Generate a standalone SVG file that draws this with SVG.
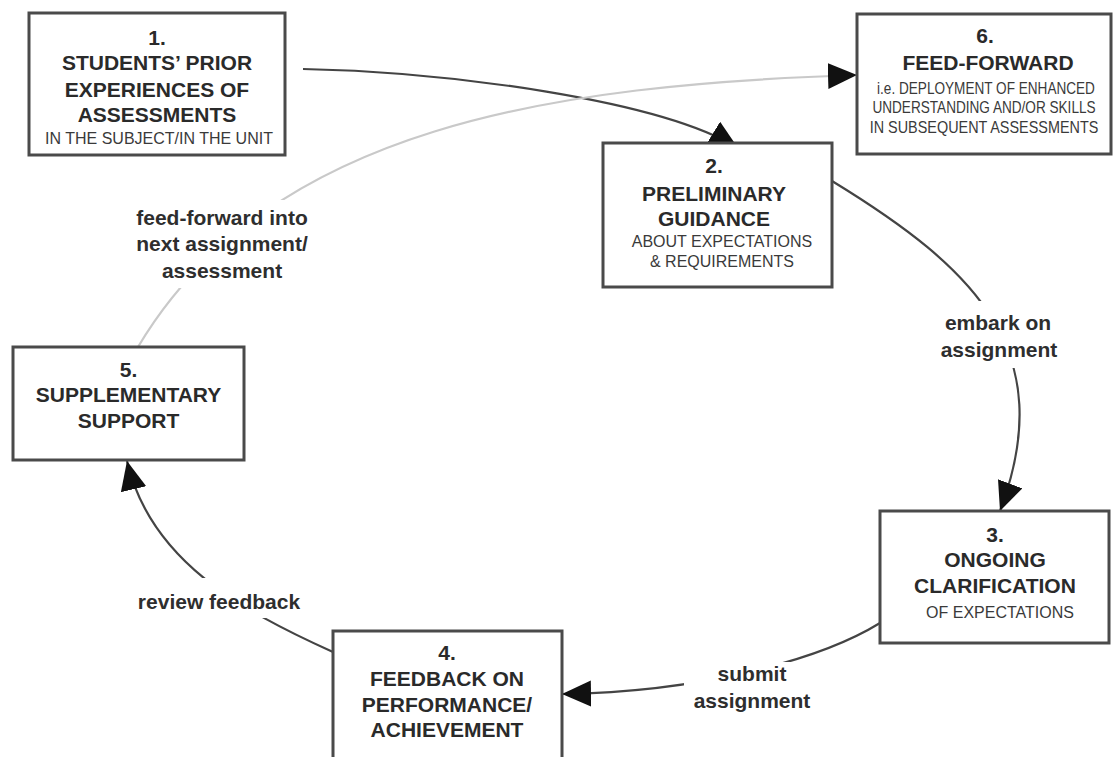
<svg xmlns="http://www.w3.org/2000/svg" width="1114" height="757" viewBox="0 0 1114 757">
<style>
.box{fill:#fff;stroke:#4a4a4a;stroke-width:3}
.t{font-family:"Liberation Sans",Arial,sans-serif;font-weight:bold;font-size:21px;fill:#2a2a2a;text-anchor:middle}
.s{font-family:"Liberation Sans",Arial,sans-serif;font-size:16px;fill:#3a3a3a;text-anchor:middle}
.lbl{font-family:"Liberation Sans",Arial,sans-serif;font-weight:bold;font-size:21px;fill:#2e2e2e;text-anchor:middle}
.c{fill:none;stroke:#444;stroke-width:2.2}
.cl{fill:none;stroke:#c9c9c9;stroke-width:2.2}
</style>
<defs>
<marker id="ah" markerUnits="userSpaceOnUse" markerWidth="32" markerHeight="30" refX="29" refY="13" orient="auto">
<path d="M0,0 L29,13 L0,26 z" fill="#111"/>
</marker>
</defs>
<rect width="1114" height="757" fill="#fff"/>
<g id="connectors">
<path class="c" d="M303,69 C450,72 660,100 738,148" marker-end="url(#ah)"/>
<path class="cl" d="M138,347 C270,125 557,85 857,75" marker-end="url(#ah)"/>
<path class="c" d="M832,181 C976,269 1060,351 1000,511" marker-end="url(#ah)"/>
<path class="c" d="M880,623 C820,660 700,692 562,694" marker-end="url(#ah)"/>
<path class="c" d="M333,652 C240,610 150,560 127,461" marker-end="url(#ah)"/>
</g>
<g id="labels">
<rect x="128" y="200" width="190" height="88" fill="#fff"/>
<text class="lbl" x="222" y="225">feed-forward into</text>
<text class="lbl" x="222" y="251">next assignment/</text>
<text class="lbl" x="222" y="278">assessment</text>
<rect x="934" y="301" width="130" height="67" fill="#fff"/>
<text class="lbl" x="998" y="330">embark on</text>
<text class="lbl" x="999" y="357">assignment</text>
<rect x="684" y="662" width="136" height="54" fill="#fff"/>
<text class="lbl" x="752" y="681">submit</text>
<text class="lbl" x="752" y="708">assignment</text>
<rect x="128" y="578" width="182" height="40" fill="#fff"/>
<text class="lbl" x="219" y="609">review feedback</text>
</g>
<g id="node1">
<rect class="box" x="29" y="13" width="256" height="142"/>
<text class="t" x="157" y="45">1.</text>
<text class="t" x="157" y="70">STUDENTS’ PRIOR</text>
<text class="t" x="157" y="97">EXPERIENCES OF</text>
<text class="t" x="157" y="122">ASSESSMENTS</text>
<text class="s" x="159" y="144">IN THE SUBJECT/IN THE UNIT</text>
</g>
<g id="node2">
<rect class="box" x="603" y="143" width="229" height="144"/>
<text class="t" x="714" y="173">2.</text>
<text class="t" x="714" y="201">PRELIMINARY</text>
<text class="t" x="714" y="226">GUIDANCE</text>
<text class="s" x="722" y="247">ABOUT EXPECTATIONS</text>
<text class="s" x="722" y="267">&amp; REQUIREMENTS</text>
</g>
<g id="node3">
<rect class="box" x="880" y="511" width="229" height="132"/>
<text class="t" x="995" y="542">3.</text>
<text class="t" x="995" y="567">ONGOING</text>
<text class="t" x="995" y="593">CLARIFICATION</text>
<text class="s" x="1000" y="618">OF EXPECTATIONS</text>
</g>
<g id="node4">
<rect class="box" x="333" y="631" width="229" height="140"/>
<text class="t" x="447" y="660">4.</text>
<text class="t" x="447" y="686">FEEDBACK ON</text>
<text class="t" x="447" y="712">PERFORMANCE/</text>
<text class="t" x="447" y="737">ACHIEVEMENT</text>
</g>
<g id="node5">
<rect class="box" x="13" y="347" width="231" height="113"/>
<text class="t" x="128.5" y="377">5.</text>
<text class="t" x="128.5" y="402">SUPPLEMENTARY</text>
<text class="t" x="128.5" y="428">SUPPORT</text>
</g>
<g id="node6">
<rect class="box" x="857" y="14" width="254" height="140"/>
<text class="t" x="985" y="43">6.</text>
<text class="t" x="988" y="70">FEED-FORWARD</text>
<text class="s" transform="translate(986,94) scale(0.85,1)">i.e. DEPLOYMENT OF ENHANCED</text>
<text class="s" transform="translate(984,113) scale(0.85,1)">UNDERSTANDING AND/OR SKILLS</text>
<text class="s" transform="translate(984,133) scale(0.9,1)">IN SUBSEQUENT ASSESSMENTS</text>
</g>
</svg>
